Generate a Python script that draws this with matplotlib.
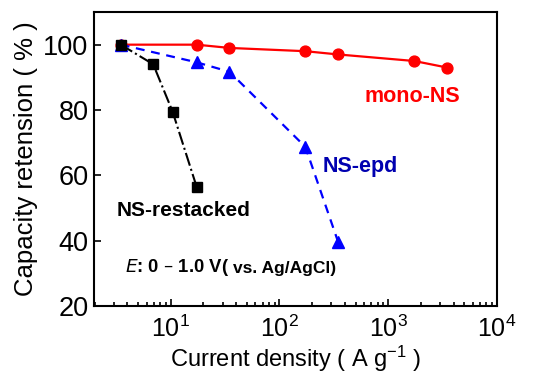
import matplotlib
matplotlib.use('Agg')
import matplotlib.pyplot as plt
from matplotlib.ticker import LogLocator, NullFormatter, FixedLocator

plt.rcParams['font.family'] = ['Liberation Sans', 'DejaVu Sans']

# data
x_mono = [3.47, 17.3, 34.7, 173, 347, 1735, 3470]
y_mono = [100, 100, 99, 98, 97, 95, 93]

x_epd = [3.47, 17.3, 34.7, 173, 347]
y_epd = [100, 94.6, 91.7, 68.7, 39.5]

x_rest = [3.47, 6.9, 10.4, 17.3]
y_rest = [100, 94, 79.5, 56.5]

fig = plt.figure(figsize=(5.45, 3.83), dpi=100)
ax = fig.add_axes([94/545, 1 - 306/383, (497-94)/545, (306-12)/383])

ax.plot(x_mono, y_mono, '-', color='#ff0000', lw=1.6, marker='o', ms=7.8, zorder=3)
ax.plot(x_epd, y_epd, '--', color='#0000ff', lw=1.6, marker='^', ms=8.5, dashes=(4, 3), zorder=3)
ax.plot(x_rest, y_rest, '-.', color='black', lw=1.5, marker='s', ms=7, zorder=4)

ax.set_xscale('log')
ax.set_xlim(1.97, 1e4)
ax.set_ylim(20, 110)
ax.set_yticks([20, 40, 60, 80, 100])

ax.xaxis.set_major_locator(FixedLocator([10, 100, 1000, 10000]))
ax.xaxis.set_minor_locator(LogLocator(base=10, subs=range(2, 10)))
ax.xaxis.set_minor_formatter(NullFormatter())
ax.set_xticklabels([r'$\mathregular{10^1}$', r'$\mathregular{10^2}$',
                    r'$\mathregular{10^3}$', r'$\mathregular{10^4}$'])

ax.tick_params(which='both', direction='in', top=False, right=False, width=1.2)
ax.tick_params(which='major', length=5)
ax.tick_params(which='minor', length=3)
ax.tick_params(axis='x', labelsize=18, pad=7)
ax.tick_params(axis='y', labelsize=19.5, pad=4)
for s in ax.spines.values():
    s.set_linewidth(1.5)

ax.set_xlabel(r'Current density ( A g$\mathregular{^{-1}}$ )', fontsize=17, labelpad=1)
ax.set_ylabel('Capacity retension ( % )', fontsize=18.5, labelpad=4)

ax.text(1660, 84, 'mono-NS', color='#ff0000', fontsize=15.5, fontweight='bold', ha='center', va='center')
ax.text(550, 62.8, 'NS-epd', color='#0000b0', fontsize=15.5, fontweight='bold', ha='center', va='center')
ax.text(13, 49.3, 'NS-restacked', color='black', fontsize=15, fontweight='bold', ha='center', va='center')
ax.text(125/545, 1 - 268/383, r'$\mathit{E}$: 0 – 1.0 V(', transform=fig.transFigure,
        fontsize=13.3, fontweight='bold', ha='left', va='center')
ax.text(233/545, 1 - 268/383, 'vs. Ag/AgCl)', transform=fig.transFigure,
        fontsize=12.5, fontweight='bold', ha='left', va='center')

fig.savefig('out.png', dpi=100)
